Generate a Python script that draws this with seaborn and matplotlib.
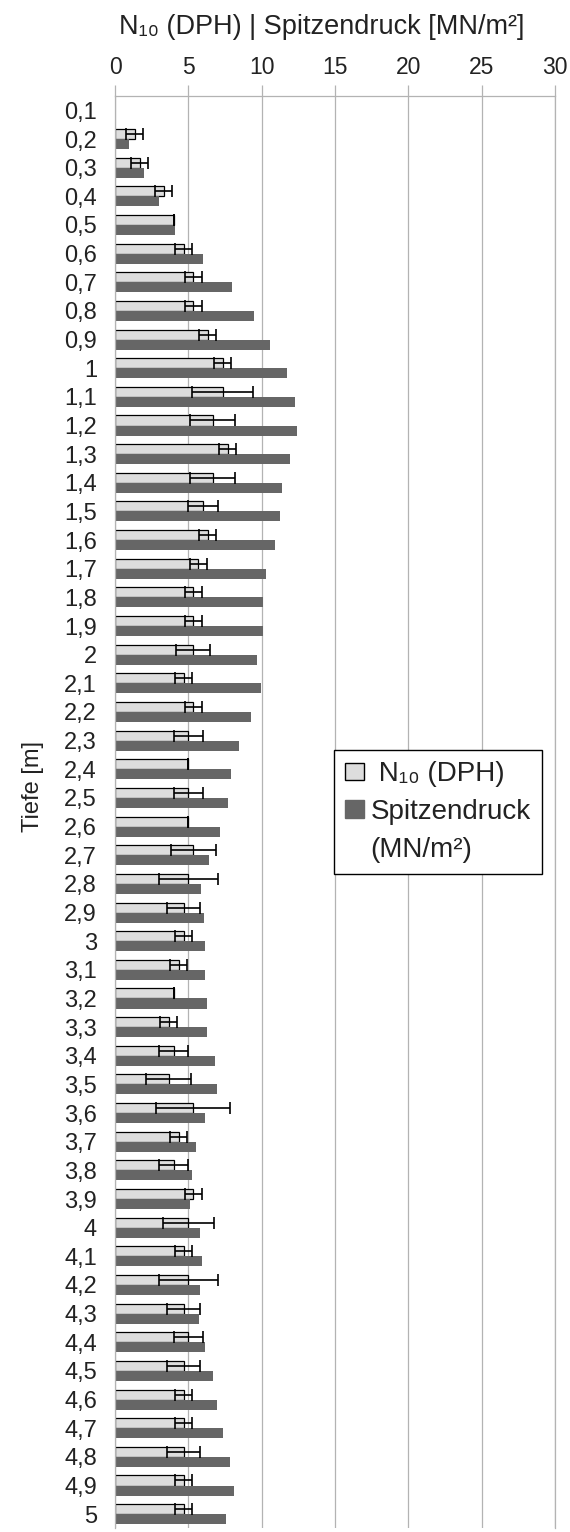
import numpy as np
import pandas as pd
import matplotlib
matplotlib.use("Agg")
import matplotlib.pyplot as plt
from matplotlib.patches import Patch
import seaborn as sns

# Tiefen 0,1 ... 5 m
tiefe = [f"{i / 10:g}".replace(".", ",") for i in range(1, 51)]

# N10 (DPH), Mittel aus 3 Sondierungen
n10 = [np.nan, 1.33, 1.67, 3.33, 4.0, 4.67, 5.33, 5.33, 6.33, 7.33,
       7.33, 6.67, 7.67, 6.67, 6.0, 6.33, 5.67, 5.33, 5.33, 5.33,
       4.67, 5.33, 5.0, 5.0, 5.0, 5.0, 5.33, 5.0, 4.67, 4.67,
       4.33, 4.0, 3.67, 4.0, 3.67, 5.33, 4.33, 4.0, 5.33, 5.0,
       4.67, 5.0, 4.67, 5.0, 4.67, 4.67, 4.67, 4.67, 4.67, 4.67]

# Standardabweichung N10
n10_sd = [np.nan, 0.58, 0.58, 0.58, 0.0, 0.58, 0.58, 0.58, 0.58, 0.58,
          2.08, 1.53, 0.58, 1.53, 1.0, 0.58, 0.58, 0.58, 0.58, 1.15,
          0.58, 0.58, 1.0, 0.0, 1.0, 0.0, 1.53, 2.0, 1.15, 0.58,
          0.58, 0.0, 0.58, 1.0, 1.53, 2.52, 0.58, 1.0, 0.58, 1.73,
          0.58, 2.0, 1.15, 1.0, 1.15, 0.58, 0.58, 1.15, 0.58, 0.58]

# Spitzendruck [MN/m²]
spitze = [np.nan, 0.92, 2.0, 3.03, 4.1, 6.0, 7.98, 9.5, 10.57, 11.7,
          12.3, 12.4, 11.9, 11.36, 11.26, 10.94, 10.3, 10.07, 10.07, 9.66,
          9.95, 9.26, 8.46, 7.9, 7.7, 7.13, 6.4, 5.86, 6.05, 6.16,
          6.16, 6.25, 6.28, 6.83, 6.94, 6.16, 5.5, 5.24, 5.1, 5.79,
          5.9, 5.82, 5.75, 6.16, 6.7, 6.92, 7.33, 7.86, 8.1, 7.59]

reihen = ["N\u2081\u2080 (DPH)", "Spitzendruck (MN/m\u00b2)"]
hell = "#dddddd"
dunkel = "#666666"
grid_col = "#b3b3b3"
txt_col = "#222222"

df = pd.DataFrame({
    "Tiefe": tiefe * 2,
    "Wert": n10 + spitze,
    "Reihe": [reihen[0]] * len(tiefe) + [reihen[1]] * len(tiefe),
})

sns.set_style("white")
plt.rcParams["font.family"] = ["Liberation Sans", "DejaVu Sans"]

fig = plt.figure(figsize=(5.7, 15.32), dpi=100)
ax = fig.add_axes([0.2018, 0.0023, 0.7719, 0.935])

sns.barplot(data=df, y="Tiefe", x="Wert", hue="Reihe", order=tiefe,
            hue_order=reihen, palette=[hell, dunkel], orient="h", width=0.7,
            errorbar=None, legend=False, ax=ax)

for bar in ax.containers[0]:
    bar.set_edgecolor("black")
    bar.set_linewidth(0.9)
for bar in ax.containers[1]:
    bar.set_linewidth(0)

# Fehlerbalken N10
ex, ey, es = [], [], []
for bar in ax.containers[0]:
    idx = int(round(bar.get_y() + bar.get_height()))
    ex.append(bar.get_width())
    ey.append(bar.get_y() + bar.get_height() / 2)
    es.append(n10_sd[idx])
ax.errorbar(ex, ey, xerr=es, fmt="none", ecolor="black", elinewidth=1.2,
            capsize=4.4, capthick=1.2, zorder=5)

ax.set_xlim(0, 30)
ax.set_ylim(len(tiefe) - 0.5, -0.5)
ax.set_xticks(range(0, 31, 5))
ax.xaxis.tick_top()
ax.xaxis.set_label_position("top")
ax.set_xlabel("N\u2081\u2080 (DPH) | Spitzendruck [MN/m\u00b2]", fontsize=19.5,
              color=txt_col, labelpad=16)
ax.xaxis.label.set_x(0.47)
ax.set_ylabel("Tiefe [m]", fontsize=17, color=txt_col)
ax.yaxis.set_label_coords(-0.161, 0.518)

ax.grid(axis="x", color=grid_col, linewidth=0.9)
ax.set_axisbelow(True)
ax.tick_params(axis="x", top=True, bottom=False, length=8, width=0.9,
               color=grid_col, labelsize=16.5, labelcolor=txt_col, pad=4)
ax.tick_params(axis="y", which="major", length=0, labelsize=17,
               labelcolor=txt_col, pad=13)
ax.set_yticks(np.arange(-0.5, len(tiefe), 1.0), minor=True)
ax.tick_params(axis="y", which="minor", length=8, width=0.9, color=grid_col)

for s in ["top", "left", "right"]:
    ax.spines[s].set_color(grid_col)
    ax.spines[s].set_linewidth(0.9)
ax.spines["bottom"].set_visible(False)

# Legende: zweite Zeile des Spitzendruck-Labels als eigener Eintrag ohne Symbol
handles = [Patch(facecolor=hell, edgecolor="black", linewidth=1.0),
           Patch(facecolor=dunkel, edgecolor=dunkel),
           Patch(facecolor="none", edgecolor="none")]
labels = [" " + reihen[0], "Spitzendruck", "(MN/m\u00b2)"]
leg = ax.legend(handles, labels, loc="upper left", bbox_to_anchor=(0.4977, 0.5433),
                borderaxespad=0, fontsize=20, frameon=True, fancybox=False,
                edgecolor="black", framealpha=1, handlelength=0.67,
                handleheight=0.61, handletextpad=0.25, labelspacing=0.42,
                borderpad=0.4)
leg.get_frame().set_linewidth(1.0)
for t in leg.get_texts():
    t.set_color(txt_col)

fig.savefig("out.png", dpi=100)
